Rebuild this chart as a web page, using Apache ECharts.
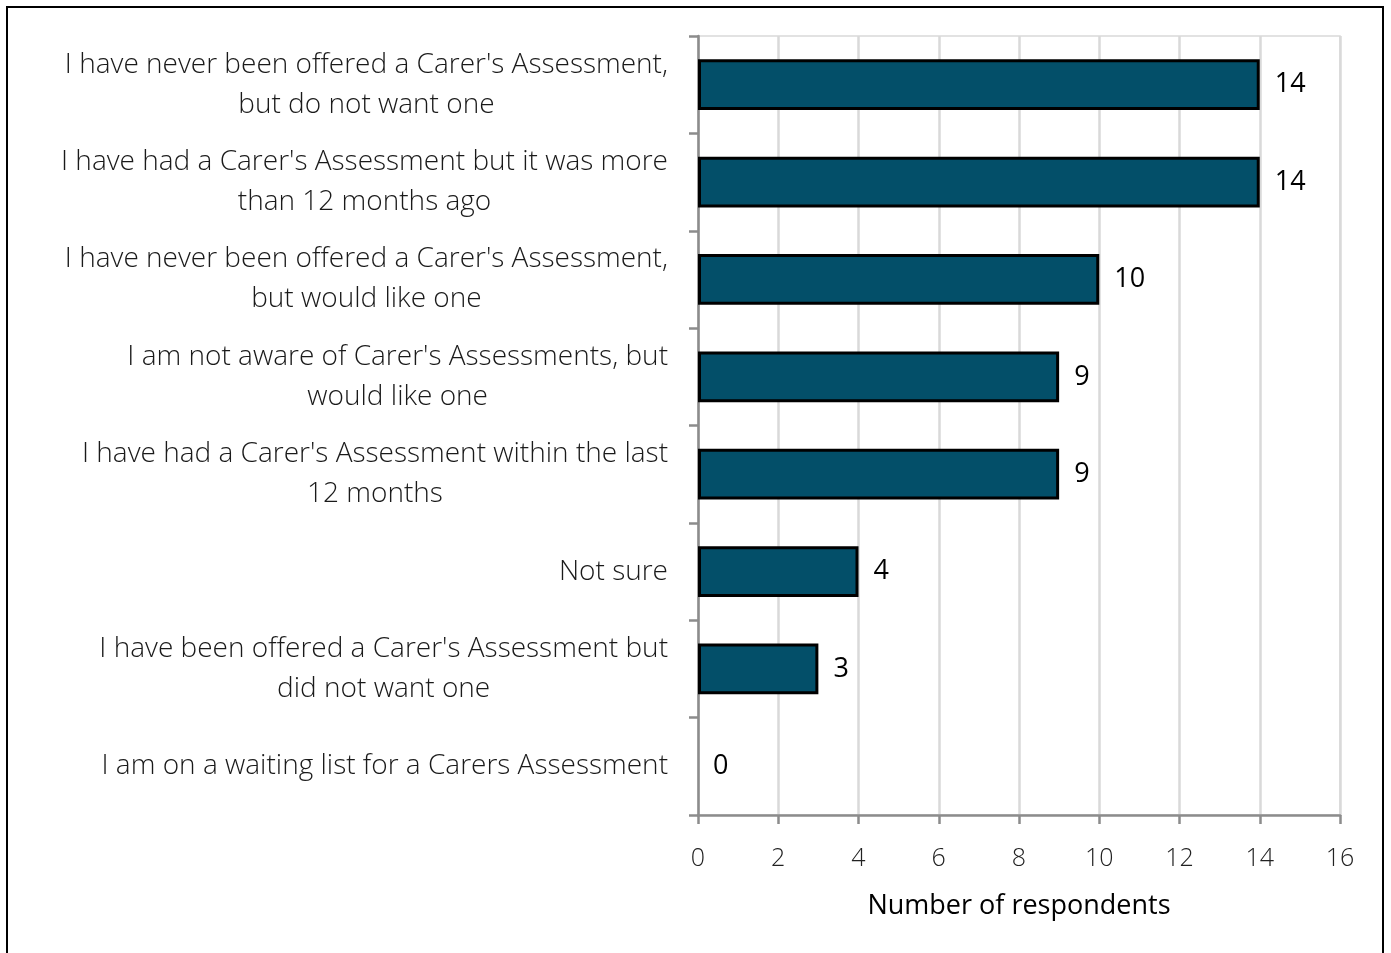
<!DOCTYPE html>
<html>
<head>
<meta charset="utf-8">
<title>Carer's Assessment</title>
<script src="https://cdn.jsdelivr.net/npm/echarts@6/dist/echarts.min.js"></script>
<style>
  html, body { margin: 0; padding: 0; background: #fff; }
  #chart { width: 1391px; height: 953px; }
</style>
</head>
<body>
<div id="chart"></div>
<script>
// Survey responses, listed top to bottom
const categories = [
  "I have never been offered a Carer's Assessment,\nbut do not want one",
  "I have had a Carer's Assessment but it was more\nthan 12 months ago",
  "I have never been offered a Carer's Assessment,\nbut would like one",
  "I am not aware of Carer's Assessments, but\nwould like one",
  "I have had a Carer's Assessment within the last\n12 months",
  "Not sure",
  "I have been offered a Carer's Assessment but\ndid not want one",
  "I am on a waiting list for a Carers Assessment"
];
const respondents = [14, 14, 10, 9, 9, 4, 3, 0];
const xTicks = { min: 0, max: 16, interval: 2 };
const xTitle = 'Number of respondents';

const FONT = '"Open Sans", sans-serif';
const BAR = '#034f69';

const chart = echarts.init(document.getElementById('chart'), null, { renderer: 'canvas' });

// each line of a category label is centred within its block
const centreLines = s => s.split('\n').map(l => '{c|' + l + '}').join('\n');

chart.setOption({
  animation: false,
  backgroundColor: '#fff',
  grid: {
    left: 698, right: 51, top: 36, bottom: 138,
    show: true, borderColor: '#d9d9d9', borderWidth: 1.5
  },
  xAxis: {
    type: 'value',
    min: xTicks.min, max: xTicks.max, interval: xTicks.interval,
    name: xTitle,
    nameLocation: 'middle',
    nameGap: 78,
    nameTextStyle: { fontFamily: FONT, fontSize: 27, color: '#000' },
    axisLine: { show: true, lineStyle: { color: '#8c8c8c', width: 2.5 } },
    axisTick: { show: true, length: 9, lineStyle: { color: '#8c8c8c', width: 2.5 } },
    axisLabel: { fontFamily: FONT, fontSize: 25, fontWeight: 300, color: '#222', margin: 31 },
    splitLine: { show: true, lineStyle: { color: '#d9d9d9', width: 2.5 } }
  },
  yAxis: {
    type: 'category',
    data: categories,
    inverse: true,
    axisLine: { show: true, lineStyle: { color: '#8c8c8c', width: 2.5 } },
    axisTick: { show: true, length: 9, alignWithLabel: false, lineStyle: { color: '#8c8c8c', width: 2.5 } },
    axisLabel: {
      margin: 30,
      formatter: centreLines,
      rich: {
        c: {
          fontFamily: FONT, fontSize: 28, fontWeight: 300, color: '#1a1a1a',
          lineHeight: 40, align: 'center'
        }
      }
    },
    splitLine: { show: false }
  },
  series: [{
    type: 'bar',
    barWidth: '52%',
    data: respondents.map(v => ({
      value: v,
      itemStyle: { borderWidth: v === 0 ? 0 : 3 }
    })),
    itemStyle: { color: BAR, borderColor: '#000', borderWidth: 3 },
    label: {
      show: true, position: 'right', distance: 15,
      fontFamily: FONT, fontSize: 27, color: '#000'
    }
  }],
  graphic: [{
    type: 'rect',
    shape: { x: 7, y: 7, width: 1376, height: 1000 },
    style: { fill: 'none', stroke: '#000', lineWidth: 2 },
    silent: true
  }]
});
</script>
</body>
</html>
